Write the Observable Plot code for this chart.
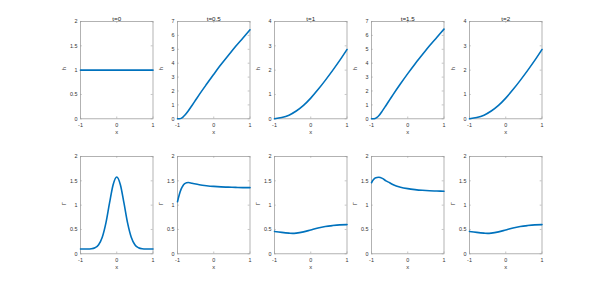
<!DOCTYPE html>
<html><head><meta charset="utf-8">
<script src="https://cdn.jsdelivr.net/npm/d3@7"></script>
<script src="https://cdn.jsdelivr.net/npm/@observablehq/plot@0.6"></script>
<style>
body{margin:0;background:#fff}
#c{position:relative;width:598px;height:285px;overflow:hidden;font-family:"Liberation Sans",Arial,sans-serif}
#c svg{position:absolute}
</style>
</head><body><div id="c"></div>
<script>
// ---- data ----
const titles = ["t=0", "t=0.5", "t=1", "t=1.5", "t=2"];
const xTicks = [-1, 0, 1];
const hMax = [2, 7, 4, 7, 4];
const hTicks = [[0, 0.5, 1, 1.5, 2], [0, 1, 2, 3, 4, 5, 6, 7], [0, 1, 2, 3, 4], [0, 1, 2, 3, 4, 5, 6, 7], [0, 1, 2, 3, 4]];
const gTicks = [0, 0.5, 1, 1.5, 2];

const h0X = [-1, 1];
const h0 = [1, 1];
const hSteepX = [-1, -0.95, -0.9, -0.85, -0.8, -0.7, -0.6, -0.5, -0.4, -0.2, 0, 0.2, 0.4, 0.6, 0.8, 1];
const h05 = [0, 0.0, 0.03, 0.12, 0.25, 0.58, 0.96, 1.35, 1.74, 2.48, 3.2, 3.9, 4.55, 5.2, 5.8, 6.4];
const h15 = [0, 0.0, 0.02, 0.1, 0.22, 0.57, 0.96, 1.36, 1.76, 2.52, 3.25, 3.95, 4.6, 5.25, 5.85, 6.45];
const hConvX = [-1, -0.8, -0.6, -0.4, -0.2, 0, 0.2, 0.4, 0.6, 0.8, 1];
const h1 = [0, 0.05, 0.15, 0.32, 0.55, 0.85, 1.2, 1.58, 1.98, 2.4, 2.85];
const h2 = [0, 0.05, 0.15, 0.32, 0.55, 0.85, 1.2, 1.58, 1.98, 2.4, 2.85];

const g0X = [-1, -0.8, -0.7, -0.6, -0.5, -0.4, -0.3, -0.2, -0.1, 0, 0.1, 0.2, 0.3, 0.4, 0.5, 0.6, 0.7, 0.8, 1];
const g0 = [0.1, 0.1, 0.104, 0.125, 0.187, 0.34, 0.63, 1.04, 1.42, 1.58, 1.42, 1.04, 0.63, 0.34, 0.187, 0.125, 0.104, 0.1, 0.1];
const g05X = [-1, -0.95, -0.9, -0.85, -0.8, -0.75, -0.7, -0.6, -0.4, -0.2, 0, 0.2, 0.4, 0.6, 0.8, 1];
const g05 = [1.07, 1.22, 1.33, 1.40, 1.44, 1.46, 1.465, 1.45, 1.42, 1.40, 1.385, 1.375, 1.37, 1.365, 1.36, 1.36];
const g1X = [-1, -0.8, -0.6, -0.5, -0.4, -0.2, 0, 0.2, 0.4, 0.6, 0.8, 1];
const g1 = [0.46, 0.44, 0.425, 0.42, 0.425, 0.45, 0.49, 0.53, 0.56, 0.58, 0.595, 0.6];
const g15X = [-1, -0.95, -0.9, -0.8, -0.7, -0.6, -0.5, -0.4, -0.2, 0, 0.2, 0.4, 0.6, 0.8, 1];
const g15 = [1.46, 1.52, 1.56, 1.575, 1.55, 1.5, 1.46, 1.42, 1.37, 1.34, 1.32, 1.305, 1.295, 1.29, 1.285];
const g2X = [-1, -0.8, -0.6, -0.5, -0.4, -0.2, 0, 0.2, 0.4, 0.6, 0.8, 1];
const g2 = [0.46, 0.44, 0.425, 0.42, 0.425, 0.45, 0.49, 0.53, 0.56, 0.58, 0.595, 0.6];

const hSeries = [[h0X, h0], [hSteepX, h05], [hConvX, h1], [hSteepX, h15], [hConvX, h2]];
const gSeries = [[g0X, g0], [g05X, g05], [g1X, g1], [g15X, g15], [g2X, g2]];

// ---- layout ----
const colLeft = [79.5, 176.5, 273.5, 371, 468.5];
const rowTop = [21, 156];
const axW = 72.5, axH = 97.3;
const mL = 24, mR = 4, mT = 12, mB = 22;
const axisColor = "#a0a0a0";
const textColor = "#333";
const font = "'Liberation Sans', Arial, sans-serif";

const c = document.getElementById("c");

function panel(xData, yData, yMax, yTicks, ylabel, title, col, row) {
  const data = xData.map((x, i) => ({x, y: yData[i]}));
  const marks = [
    Plot.frame({stroke: axisColor, strokeWidth: 0.8}),
    Plot.tickX(xTicks, {x: d => d, insetTop: axH - 1.8, stroke: axisColor, strokeWidth: 0.6}),
    Plot.tickX(xTicks, {x: d => d, insetBottom: axH - 1.8, stroke: axisColor, strokeWidth: 0.6}),
    Plot.tickY(yTicks, {y: d => d, insetRight: axW - 1.8, stroke: axisColor, strokeWidth: 0.6}),
    Plot.tickY(yTicks, {y: d => d, insetLeft: axW - 1.8, stroke: axisColor, strokeWidth: 0.6}),
    Plot.axisX({ticks: xTicks, tickSize: 0, tickPadding: 4, tickFormat: d => String(d), fill: textColor, label: null}),
    Plot.axisY({ticks: yTicks, tickSize: 0, tickPadding: 3, tickFormat: d => String(d), fill: textColor, label: null}),
    Plot.text(["x"], {frameAnchor: "bottom", dy: 15.5, fill: textColor, fontSize: 5.8}),
    Plot.text([ylabel], {frameAnchor: "left", dx: -16.5, rotate: -90, fill: textColor, fontSize: 5.8}),
    Plot.line(data, {x: "x", y: "y", stroke: "#0072BD", strokeWidth: 1.6, curve: "monotone-x"})
  ];
  if (title) marks.push(Plot.text([title], {frameAnchor: "top", dy: -4.5, fill: "#222", fontSize: 6.2}));
  const svg = Plot.plot({
    width: mL + axW + mR, height: mT + axH + mB,
    marginLeft: mL, marginRight: mR, marginTop: mT, marginBottom: mB,
    style: {fontSize: "5.4px", fontFamily: font, background: "transparent", overflow: "visible"},
    x: {domain: [-1, 1]},
    y: {domain: [0, yMax]},
    marks
  });
  svg.style.left = (colLeft[col] - mL) + "px";
  svg.style.top = (rowTop[row] - mT) + "px";
  c.appendChild(svg);
}

for (let i = 0; i < 5; i++) {
  panel(hSeries[i][0], hSeries[i][1], hMax[i], hTicks[i], "h", titles[i], i, 0);
  panel(gSeries[i][0], gSeries[i][1], 2, gTicks, "Γ", null, i, 1);
}
</script>
</body></html>
